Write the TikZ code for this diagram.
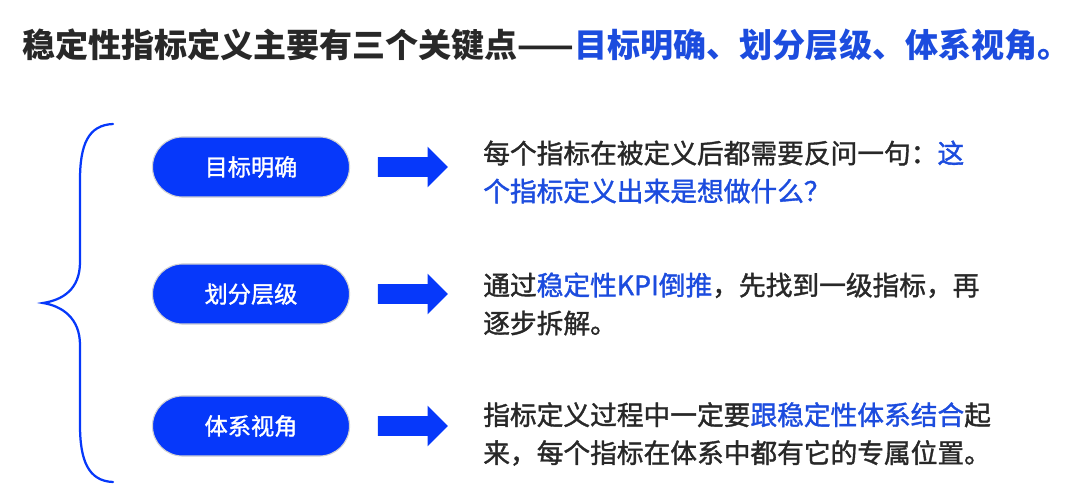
\documentclass[tikz,border=0pt]{standalone}
\usepackage{fontspec}
\newfontfamily\cjk{Noto Sans CJK SC}
\newfontfamily\cjkmed[FakeBold=1.4]{Noto Sans CJK SC}
\usetikzlibrary{shapes.misc, shapes.arrows}

\definecolor{pillblue}{RGB}{6,56,250}
\definecolor{textblue}{RGB}{28,76,222}
\definecolor{textgray}{RGB}{40,40,40}
\newcommand{\hl}[1]{\textcolor{textblue}{#1}}

\begin{document}
\begin{tikzpicture}[
    x=0.025cm, y=-0.025cm,
    pill node/.style={rounded rectangle, fill=pillblue, draw=gray!35, line width=0.8pt, minimum width=4.925cm, minimum height=1.5cm, inner sep=0pt, text=white, font=\cjkmed\fontsize{16.5}{20}\selectfont},
    arrow node/.style={single arrow, fill=pillblue, draw=none, inner xsep=0pt, inner ysep=0.2375cm, minimum height=1.75cm, single arrow head extend=0.2625cm},
    desc node/.style={anchor=west, align=left, inner sep=0pt, text=textgray, font=\cjkmed\fontsize{19}{27}\selectfont},
    brace line/.style={draw=pillblue, line width=1.6pt, line cap=round}
]
\useasboundingbox (0,0) rectangle (1080,501);

% 标题
\node[anchor=west, inner sep=0pt, text=textgray, font=\cjk\bfseries\fontsize{23.5}{28}\selectfont] (title) at (22,45)
  {稳定性指标定义主要有三个关键点——\hl{目标明确、划分层级、体系视角。}};

% 左侧大括号
\draw[brace line] (113,124) .. controls (88,125) and (80,145) .. (80,180) -- (80,262)
  .. controls (80,290) and (62,300) .. (43,303)
  .. controls (62,306) and (80,318) .. (80,345) -- (80,425)
  .. controls (80,460) and (88,481) .. (113,482);

% 三个关键点
\node[pill node] (P1) at (251,167) {目标明确};
\node[pill node] (P2) at (251,294) {划分层级};
\node[pill node] (P3) at (251,426) {体系视角};

% 箭头
\node[arrow node] (A1) at (408,167) {};
\node[arrow node] (A2) at (408,294) {};
\node[arrow node] (A3) at (408,426) {};

% 说明文字
\node[desc node] (D1) at (483,172)
  {每个指标在被定义后都需要反问一句：\hl{这}\\\hl{个指标定义出来是想做什么？}};
\node[desc node] (D2) at (483,304)
  {通过\hl{稳定性KPI倒推}，先找到一级指标，再\\逐步拆解。};
\node[desc node] (D3) at (483,434)
  {指标定义过程中一定要\hl{跟稳定性体系结合}起\\来，每个指标在体系中都有它的专属位置。};

\end{tikzpicture}
\end{document}
